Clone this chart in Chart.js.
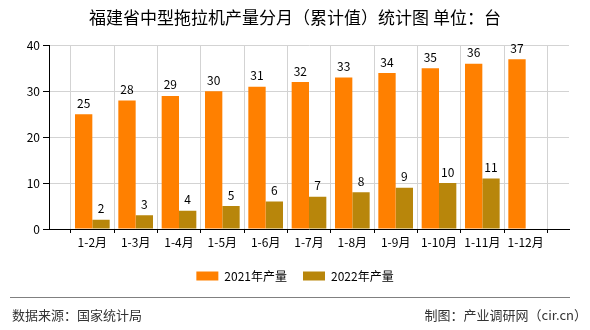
<!DOCTYPE html>
<html>
<head>
<meta charset="UTF-8">
<title>福建省中型拖拉机产量分月（累计值）统计图</title>
<script src="https://cdn.jsdelivr.net/npm/chart.js@4/dist/chart.umd.min.js"></script>
<style>
  body { margin: 0; background: #fff; }
  #wrap { position: relative; width: 590px; height: 330px; }
  #foot-line { position: absolute; left: 10px; top: 297px; width: 560px; border-top: 1px solid #808080; }
  .foot { position: absolute; top: 306px; font: 13px "Noto Sans CJK SC", sans-serif; color: #333; line-height: 18px; }
</style>
</head>
<body>
<div id="wrap">
  <canvas id="myChart" width="590" height="330"></canvas>
  <div id="foot-line"></div>
  <div class="foot" style="left:12px">数据来源：国家统计局</div>
  <div class="foot" style="right:3px">制图：产业调研网（cir.cn）</div>
</div>
<script>
// 月份（累计）
var months = ['1-2月', '1-3月', '1-4月', '1-5月', '1-6月', '1-7月', '1-8月', '1-9月', '1-10月', '1-11月', '1-12月'];
// 产量，单位：台
var output2021 = [25, 28, 29, 30, 31, 32, 33, 34, 35, 36, 37];
var output2022 = [2, 3, 4, 5, 6, 7, 8, 9, 10, 11, null];
var yTicks = [0, 10, 20, 30, 40];

var font = '"Noto Sans CJK SC", sans-serif';

// 两端各留一个空位，柱子落在网格线上
function pad(arr) {
  return [null].concat(arr, [null]);
}
var labels = [''].concat(months, ['']);

// 柱顶数值
var valueLabels = {
  id: 'valueLabels',
  afterDatasetsDraw: function (chart) {
    var ctx = chart.ctx;
    ctx.save();
    ctx.font = '12px ' + font;
    ctx.fillStyle = '#000';
    ctx.textAlign = 'center';
    ctx.textBaseline = 'bottom';
    chart.data.datasets.forEach(function (ds, i) {
      chart.getDatasetMeta(i).data.forEach(function (bar, j) {
        var v = ds.data[j];
        if (v == null) return;
        ctx.fillText(v, bar.x, bar.y - 5);
      });
    });
    ctx.restore();
  }
};

var ctx = document.getElementById('myChart').getContext('2d');
var myChart = new Chart(ctx, {
  type: 'bar',
  data: {
    labels: labels,
    datasets: [
      { label: '2021年产量', data: pad(output2021), backgroundColor: '#ff8000', categoryPercentage: 0.8, barPercentage: 1 },
      { label: '2022年产量', data: pad(output2022), backgroundColor: '#b8860b', categoryPercentage: 0.8, barPercentage: 1 }
    ]
  },
  options: {
    responsive: false,
    animation: false,
    layout: { padding: { left: 0, right: 0, top: 0, bottom: 38 } },
    plugins: {
      title: {
        display: true,
        text: '福建省中型拖拉机产量分月（累计值）统计图 单位：台',
        font: { family: font, size: 17, weight: 'normal' },
        color: '#000',
        padding: { top: 7, bottom: 18 }
      },
      legend: {
        position: 'bottom',
        labels: { boxWidth: 22, boxHeight: 9, padding: 16, color: '#000', font: { family: font, size: 12 } }
      },
      tooltip: { enabled: false }
    },
    scales: {
      x: {
        offset: false,
        grid: { color: '#d3d3d3', tickLength: 4, tickColor: '#000' },
        border: { color: '#000', width: 1 },
        ticks: { autoSkip: false, maxRotation: 0, padding: 2, color: '#000', font: { family: font, size: 12 } },
        afterFit: function (s) { s.height = 25; }
      },
      y: {
        min: 0,
        max: 40,
        afterBuildTicks: function (s) { s.ticks = yTicks.map(function (v) { return { value: v }; }); },
        grid: { color: '#d3d3d3', tickLength: 6, tickColor: '#000' },
        border: { color: '#000', width: 1 },
        ticks: { padding: 3, color: '#000', font: { family: font, size: 12 } },
        afterFit: function (s) { s.width = 49; }
      },
      // 右侧留白
      yRight: {
        position: 'right',
        min: 0,
        max: 40,
        grid: { display: false },
        border: { display: false },
        ticks: { display: false },
        afterFit: function (s) { s.width = 21; }
      }
    }
  },
  plugins: [valueLabels]
});
</script>
</body>
</html>
